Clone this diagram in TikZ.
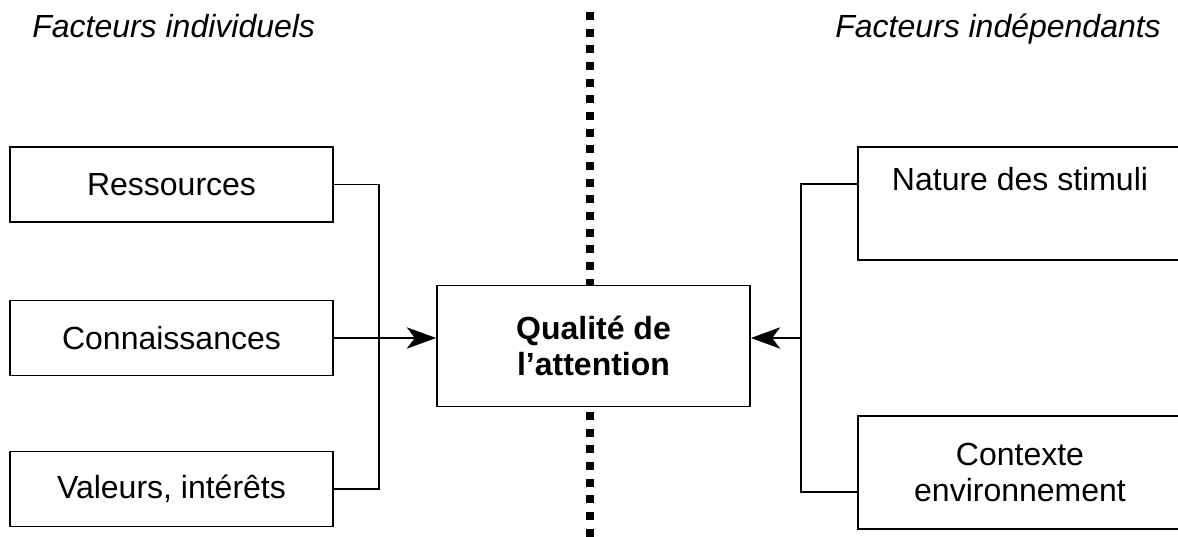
\documentclass[tikz,border=0pt]{standalone}
\usepackage{fontspec}
\setmainfont{Liberation Sans}
\usetikzlibrary{arrows.meta}

\begin{document}
\begin{tikzpicture}[x=.75pt,y=-.75pt,line cap=butt,line join=miter,
    >={Stealth[length=22pt,width=16pt,inset=6pt]},
    box/.style={draw,line width=1.3pt,fill=white,align=center,
      font=\fontsize{24}{27.6}\selectfont},
    sidebox/.style={box,minimum width=242.25pt,minimum height=56.25pt},
    farbox/.style={box,minimum width=243pt,minimum height=84.75pt},
    title/.style={anchor=base west,inner sep=0pt,
      font=\fontsize{24}{27.6}\selectfont\itshape}]
    \useasboundingbox (0,0) rectangle (1178,536);
    \clip (0,0) rectangle (1178,536);

    % the dotted divide between the two groups of factors
    \draw[line width=6pt,dash pattern=on 6pt off 6.5pt] (590,12) -- (590,540);

    \node[title] (ind) at (32,37) {Facteurs individuels};
    \node[title] (dep) at (835,37) {Facteurs indépendants};

    \node[sidebox] (res) at (171.5,184.5) {Ressources};
    \node[sidebox] (con) at (171.5,338) {Connaissances};
    \node[sidebox] (val) at (171.5,489) {Valeurs, intérêts};

    \node[box,minimum width=234.75pt,minimum height=90.75pt,
      font=\fontsize{24}{27.6}\selectfont\bfseries] (qual) at (593.5,346)
      {Qualité de\\l’attention};

    % the right boxes run past the edge of the page
    \node[farbox,text depth=37pt] (nat) at (1020,203.5) {Nature des stimuli};
    \node[farbox] (ctx) at (1020,472.5) {Contexte\\environnement};

    \draw[line width=1.3pt] (res.east) -- ++(45,0) |- (val.east);
    \draw[->,line width=1.3pt] (con.east) -- (con.east -| qual.west);

    \coordinate (jr) at (802,338);
    \draw[line width=1.3pt] ([yshift=14.6pt]nat.west) -- ++(-56,0)
      |- ([yshift=-14.6pt]ctx.west);
    \draw[->,line width=1.3pt] (jr) -- (jr -| qual.east);
  \end{tikzpicture}
\end{document}
